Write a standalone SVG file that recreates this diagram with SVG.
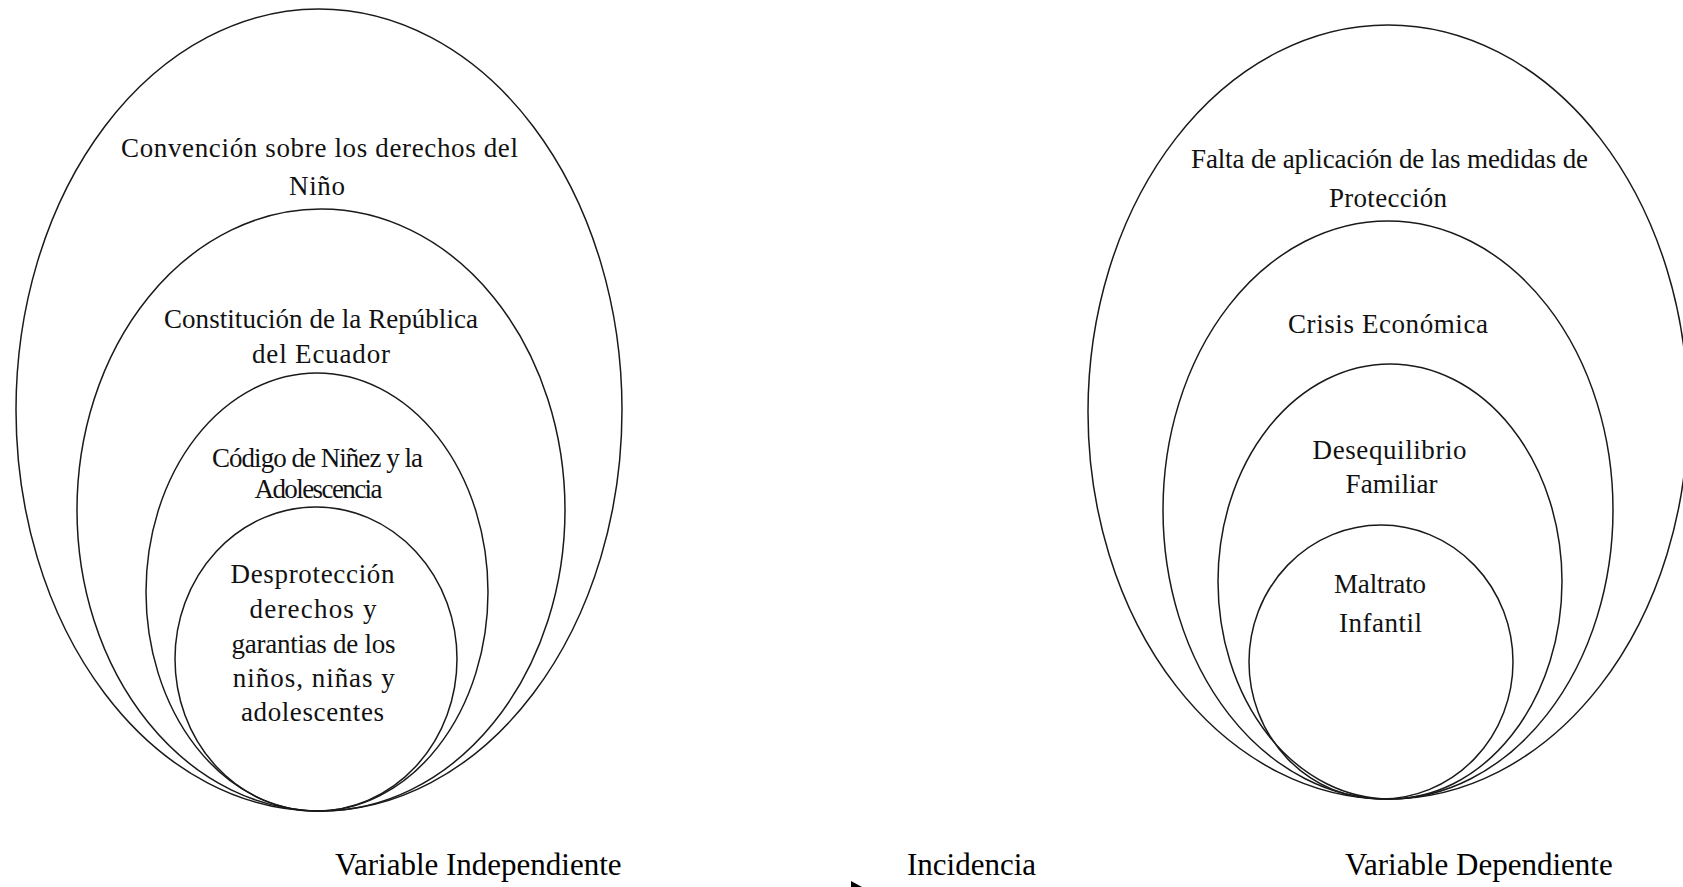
<svg xmlns="http://www.w3.org/2000/svg" width="1683" height="887" viewBox="0 0 1683 887">
<style>
.e{fill:none;stroke:#1a1a1a;stroke-width:1.5}
.t{font-family:"Liberation Serif","Times New Roman",serif;font-size:27px;fill:#111;text-anchor:middle}
.l{font-family:"Liberation Serif","Times New Roman",serif;font-size:31px;fill:#000}
</style>
<rect width="1683" height="887" fill="#fff"/>
<g id="left-set">
<g id="convencion">
<ellipse class="e" cx="319" cy="410" rx="303" ry="401"/>
<text class="t" x="319.5" y="157" textLength="397" lengthAdjust="spacing">Convención sobre los derechos del</text>
<text class="t" x="317" y="195" textLength="56" lengthAdjust="spacing">Niño</text>
</g>
<g id="constitucion">
<ellipse class="e" cx="321" cy="510" rx="244" ry="301"/>
<text class="t" x="321" y="328" textLength="314" lengthAdjust="spacing">Constitución de la República</text>
<text class="t" x="321" y="363" textLength="138" lengthAdjust="spacing">del Ecuador</text>
</g>
<g id="codigo">
<ellipse class="e" cx="317" cy="592" rx="171" ry="219"/>
<text class="t" x="317.5" y="467" textLength="211" lengthAdjust="spacing">Código de Niñez y la</text>
<text class="t" x="318.5" y="498" textLength="128" lengthAdjust="spacing">Adolescencia</text>
</g>
<g id="desproteccion">
<ellipse class="e" cx="316" cy="659" rx="141" ry="152"/>
<text class="t" x="312.5" y="583" textLength="164" lengthAdjust="spacing">Desprotección</text>
<text class="t" x="313" y="618" textLength="127" lengthAdjust="spacing">derechos y</text>
<text class="t" x="313.5" y="653" textLength="164" lengthAdjust="spacing">garantias de los</text>
<text class="t" x="313.8" y="687" textLength="162" lengthAdjust="spacing">niños, niñas y</text>
<text class="t" x="312.5" y="721" textLength="143" lengthAdjust="spacing">adolescentes</text>
</g>
</g>
<g id="right-set">
<g id="falta">
<ellipse class="e" cx="1388" cy="412" rx="300" ry="387"/>
<text class="t" x="1389.5" y="168" textLength="397" lengthAdjust="spacing">Falta de aplicación de las medidas de</text>
<text class="t" x="1388" y="207" textLength="118" lengthAdjust="spacing">Protección</text>
</g>
<g id="crisis">
<ellipse class="e" cx="1388" cy="510" rx="225" ry="289"/>
<text class="t" x="1388" y="333" textLength="200" lengthAdjust="spacing">Crisis Económica</text>
</g>
<g id="desequilibrio">
<ellipse class="e" cx="1390" cy="581.5" rx="172" ry="217.5"/>
<text class="t" x="1389.6" y="459" textLength="154" lengthAdjust="spacing">Desequilibrio</text>
<text class="t" x="1391.6" y="493" textLength="92" lengthAdjust="spacing">Familiar</text>
</g>
<g id="maltrato">
<ellipse class="e" cx="1381" cy="662" rx="132" ry="137"/>
<text class="t" x="1380" y="593" textLength="92" lengthAdjust="spacing">Maltrato</text>
<text class="t" x="1380.5" y="632" textLength="83" lengthAdjust="spacing">Infantil</text>
</g>
</g>
<g id="labels">
<text class="l" x="335" y="875">Variable Independiente</text>
<text class="l" x="907" y="875">Incidencia</text>
<text class="l" x="1345" y="875">Variable Dependiente</text>
</g>
<g id="connectors">
<polygon points="851,881 862,887 851,887" fill="#000"/>
</g>
</svg>
